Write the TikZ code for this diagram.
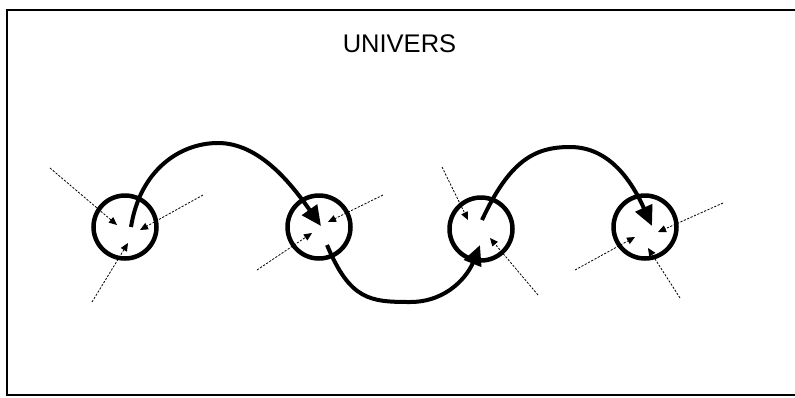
\documentclass[tikz,border=0pt]{standalone}
\usepackage{fontspec}
\setmainfont{Liberation Sans}
\usetikzlibrary{arrows.meta,calc}

\begin{document}
\begin{tikzpicture}[x=1pt,y=-1pt,
  planet/.style={draw, circle, line width=4.5pt, minimum size=63pt, inner sep=0pt},
  orbit/.style={line width=4pt, -{Triangle[length=20pt,width=18pt]}},
  ray/.style={line width=0.8pt, dash pattern=on 2.2pt off 1.5pt, -{Triangle[length=8pt,width=7pt]}}]
\useasboundingbox (0,0) rectangle (795,397);
\draw[line width=2pt] (800,10) -- (7,10) -- (7,395) -- (800,395);
\node[font=\fontsize{25.5}{30}\selectfont, anchor=base] (title) at (399.5,52) {UNIVERS};
\foreach \n/\x/\y in {c1/125/227, c2/319/227, c3/481/229, c4/645/227} {
  \node[planet] (\n) at (\x,\y) {};
}
% incoming rays
\foreach \c/\fx/\fy/\tx/\ty in {c1/-75/-59/-8/-2, c1/78/-32/15/3, c1/-33/75/3/16,
    c2/-62/43/-7/6, c2/64/-32/9/-5,
    c3/-39/-62/-13/-9, c3/57/66/9/9,
    c4/78/-24/13/5, c4/-70/43/-10/10, c4/35/71/3/21} {
  \draw[ray] ($(\c.center)+(\fx,\fy)$) -- ($(\c.center)+(\tx,\ty)$);
}
% jumps between the circles
\draw[orbit] ($(c1.center)+(6,0)$) .. controls (140,170) and (180,143) .. (218,143)
  .. controls (260,143) and (292,185) .. ($(c2.center)+(2,-1)$);
\draw[orbit] ($(c2.center)+(8,18)$) .. controls (350,300) and (370,302) .. (410,302)
  .. controls (448,302) and (468,275) .. ($(c3.center)+(-1,16)$);
\draw[orbit] ($(c3.center)+(1,-9)$) .. controls (510,160) and (535,147) .. (570,147)
  .. controls (610,147) and (632,182) .. ($(c4.center)+(7,-1)$);
\end{tikzpicture}
\end{document}
